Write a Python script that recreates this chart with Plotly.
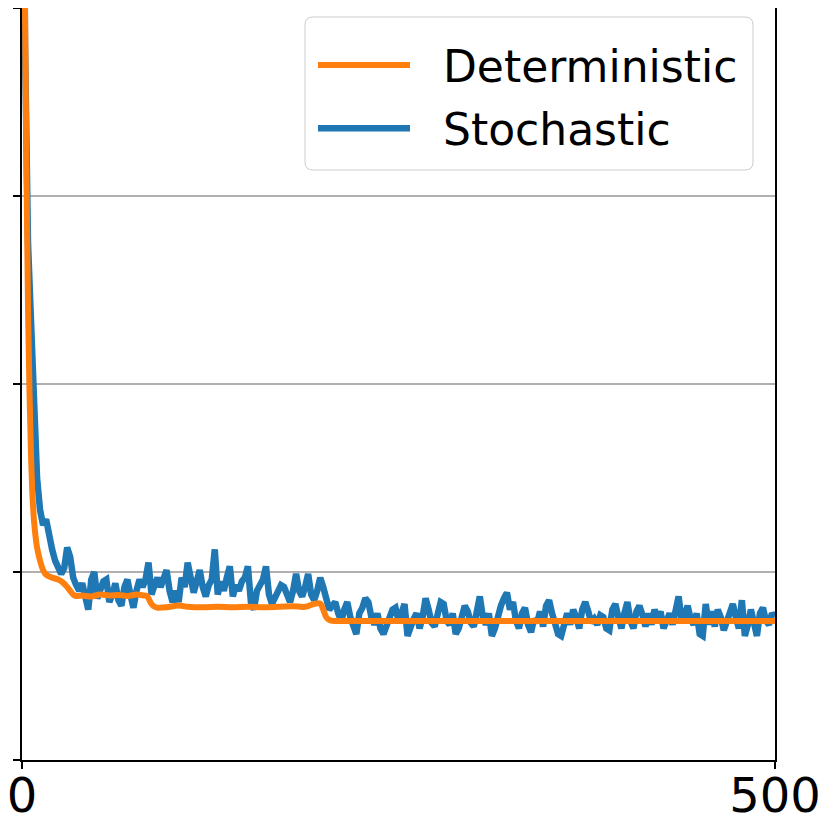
import plotly.graph_objects as go

# Deterministic series (irregular sample points)
det_x = [0, 1, 2, 3, 4, 5, 6, 7, 8, 9, 10, 12, 14, 16, 20, 24, 27, 30, 32, 34, 36,
         40, 46, 52, 58, 64, 70, 76, 80, 83, 84, 86, 88, 90, 96, 104, 110, 120, 130,
         140, 150, 160, 170, 180, 188, 194, 198, 200, 202, 204, 206, 220, 260, 300,
         350, 400, 450, 500]
det_y = [7.0, 5.2, 4.0, 3.1, 2.4, 1.95, 1.62, 1.40, 1.27, 1.19, 1.13, 1.06, 1.01, 0.985,
         0.97, 0.96, 0.945, 0.92, 0.90, 0.88, 0.872,
         0.875, 0.87, 0.88, 0.875, 0.878, 0.873, 0.88, 0.876, 0.872, 0.86, 0.83, 0.815,
         0.81, 0.812, 0.822, 0.815, 0.812, 0.815, 0.812, 0.815, 0.813, 0.815, 0.818,
         0.815, 0.83, 0.832, 0.80, 0.76, 0.745, 0.74, 0.74, 0.74, 0.74, 0.74, 0.74,
         0.74, 0.74]

# Stochastic series, one value every 2 steps from 0 to 500
sto_x = list(range(0, 501, 2))
sto_y = [
    6.5, 3.8, 2.75, 2.3, 1.9, 1.5, 1.33, 1.25, 1.28, 1.18,
    1.12, 1.06, 1.02, 0.99, 1.02, 1.13, 1.08, 0.97, 0.93, 0.90,
    0.94, 0.85, 0.80, 0.96, 1.00, 0.86, 0.92, 0.95, 0.96, 0.84,
    0.88, 0.94, 0.85, 0.82, 0.92, 0.96, 0.88, 0.81, 0.90, 0.96,
    0.92, 0.96, 1.05, 0.88, 0.93, 0.97, 0.92, 0.98, 1.01, 0.90,
    0.84, 0.90, 0.84, 0.97, 0.92, 1.05, 0.98, 0.89, 0.95, 1.01,
    0.92, 0.87, 0.93, 0.96, 1.12, 0.88, 0.95, 0.90, 0.97, 1.03,
    0.87, 0.93, 0.90, 0.95, 0.97, 1.03, 0.84, 0.80, 0.90, 0.93,
    0.96, 1.03, 0.88, 0.83, 0.87, 0.90, 0.93, 0.92, 0.88, 0.84,
    0.90, 0.99, 0.90, 0.87, 0.92, 0.99, 0.88, 0.85, 0.90, 0.97,
    0.92, 0.85, 0.80, 0.82, 0.84, 0.78, 0.74, 0.80, 0.84, 0.76,
    0.70, 0.67, 0.78, 0.81, 0.86, 0.84, 0.76, 0.72, 0.78, 0.70,
    0.67, 0.72, 0.75, 0.80, 0.81, 0.74, 0.78, 0.83, 0.66, 0.72,
    0.75, 0.78, 0.70, 0.76, 0.86, 0.80, 0.73, 0.71, 0.78, 0.84,
    0.83, 0.74, 0.72, 0.78, 0.67, 0.70, 0.76, 0.82, 0.79, 0.73,
    0.71, 0.80, 0.87, 0.76, 0.72, 0.78, 0.66, 0.70, 0.77, 0.82,
    0.86, 0.89, 0.80, 0.84, 0.74, 0.70, 0.78, 0.81, 0.72, 0.68,
    0.75, 0.73, 0.79, 0.71, 0.82, 0.85, 0.78, 0.72, 0.67, 0.66,
    0.74, 0.78, 0.72, 0.80, 0.76, 0.70, 0.80, 0.84, 0.79, 0.73,
    0.75, 0.72, 0.77, 0.76, 0.70, 0.69, 0.80, 0.83, 0.76, 0.70,
    0.78, 0.84, 0.74, 0.70, 0.79, 0.82, 0.77, 0.71, 0.78, 0.72,
    0.80, 0.75, 0.79, 0.70, 0.74, 0.78, 0.72, 0.80, 0.87, 0.74,
    0.77, 0.82, 0.75, 0.72, 0.78, 0.67, 0.66, 0.83, 0.72, 0.79,
    0.71, 0.80, 0.76, 0.69, 0.74, 0.79, 0.83, 0.76, 0.70, 0.85,
    0.66, 0.72, 0.80, 0.73, 0.66, 0.78, 0.81, 0.74, 0.72, 0.78,
    0.76,
]

x_tickvals = [0, 500]
x_ticklabels = ["0", "500"]
y_tickvals = [0, 1, 2, 3, 4]

# page has an 8px body margin, so the figure is drawn 8px in from the corner
OFF = 8
W, H = 822, 822
ML, MR, MT, MB = 22 - OFF, 55, 0, 70
PW, PH = W - ML - MR, H - MT - MB


def px2paper(px, py):
    # px, py are screenshot pixel coordinates
    return (px - OFF - ML) / PW, (H - MB - (py - OFF)) / PH


def P(px, py):
    xx, yy = px2paper(px, py)
    return f"{xx:.5f},{yy:.5f}"


# rounded legend frame (screenshot pixel box -> paper coords)
bx0, by0, bx1, by1, r = 305, 17, 753, 170, 8
path = (f"M {P(bx0 + r, by0)} L {P(bx1 - r, by0)} Q {P(bx1, by0)} {P(bx1, by0 + r)} "
        f"L {P(bx1, by1 - r)} Q {P(bx1, by1)} {P(bx1 - r, by1)} "
        f"L {P(bx0 + r, by1)} Q {P(bx0, by1)} {P(bx0, by1 - r)} "
        f"L {P(bx0, by0 + r)} Q {P(bx0, by0)} {P(bx0 + r, by0)} Z")

fig = go.Figure()
fig.add_trace(go.Scatter(x=sto_x, y=sto_y, mode="lines", name="\u00a0\u00a0Stochastic",
                         line=dict(color="#1f77b4", width=6.5), legendrank=2,
                         legendgroup="b"))
fig.add_trace(go.Scatter(x=det_x, y=det_y, mode="lines", name="\u00a0\u00a0Deterministic",
                         line=dict(color="#ff7f0e", width=6, shape="spline"), legendrank=1,
                         legendgroup="a"))

lx, ly = px2paper(313, 30)
fig.update_layout(
    width=W, height=H,
    margin=dict(l=ML, r=MR, t=MT, b=MB, pad=0),
    paper_bgcolor="white", plot_bgcolor="white",
    font=dict(family="DejaVu Sans", color="black"),
    showlegend=True,
    legend=dict(x=lx, y=ly, xanchor="left", yanchor="top",
                bgcolor="rgba(0,0,0,0)", borderwidth=0,
                traceorder="grouped", tracegroupgap=3,
                font=dict(size=44, family="DejaVu Sans"), itemwidth=92),
    shapes=[dict(type="path", xref="paper", yref="paper", path=path,
                 line=dict(color="#cccccc", width=1), fillcolor="white", layer="below")],
)
fig.update_xaxes(range=[0, 500], tickvals=x_tickvals, ticktext=x_ticklabels,
                 ticks="outside", ticklen=7, tickwidth=1.5, tickcolor="black",
                 showgrid=False, zeroline=False, showline=True, linecolor="black",
                 linewidth=1.5, mirror=True, tickfont=dict(size=48), automargin=False,
                 ticklabelstandoff=-14, ticklabeloverflow="allow")
fig.update_yaxes(range=[0, 4], tickvals=y_tickvals, showticklabels=False,
                 ticks="outside", ticklen=7, tickwidth=1.5, tickcolor="black",
                 showgrid=True, gridcolor="#b0b0b0", gridwidth=1.5, zeroline=False,
                 showline=True, linecolor="black", linewidth=1.5, mirror=True,
                 automargin=False)

fig.write_html("out.html")
